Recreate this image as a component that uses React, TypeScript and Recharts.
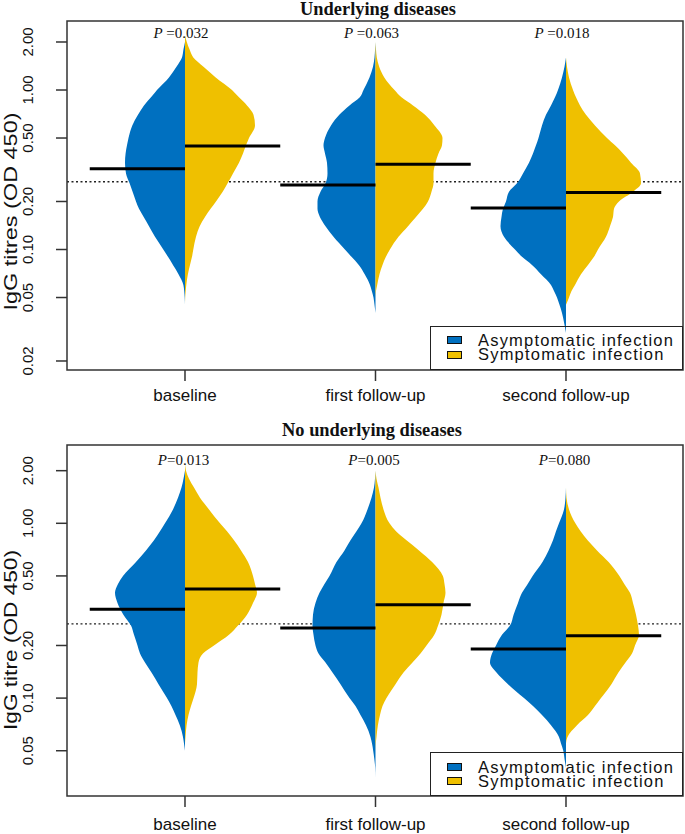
import React from 'react';
import {
  ComposedChart,
  Area,
  XAxis,
  YAxis,
  ReferenceLine,
  ReferenceArea,
  ReferenceDot,
  Legend,
} from 'recharts';

// ---------------- data ----------------
// titre levels (OD 450) at which violin half-widths were read, high to low
const LEVELS = [2.2, 2.0, 1.8, 1.6, 1.4, 1.2, 1.0, 0.9, 0.8, 0.7, 0.6, 0.5, 0.45, 0.4, 0.35, 0.3, 0.26, 0.23, 0.2, 0.18, 0.16, 0.14, 0.12, 0.1, 0.09, 0.08, 0.07, 0.06, 0.055, 0.05, 0.045, 0.04, 0.035, 0.03];

const CATEGORIES = ['baseline', 'first follow-up', 'second follow-up'];
const GROUPS = ['Asymptomatic infection', 'Symptomatic infection'];

// violin half-width (density) readings, one value per LEVELS entry
const TOP_BASE_ASYM = [null, 0, 1.5, 3, 8.5, 16, 28, 34, 41, 47, 52.7, 56.5, 58, 59.4, 60, 59, 55.4, 52.4, 49, 46, 41.3, 36, 30, 21.7, 17, 12, 6.5, 1.6, 0.8, 0.3, 0, null, null, null];
const TOP_BASE_SYM = [0, 1.8, 4.5, 8.3, 18.5, 30.7, 47, 54, 62, 68.5, 70, 64, 61, 58, 54, 48, 42.6, 37.7, 31, 25.6, 20, 14.7, 11, 8.3, 7, 5, 2.9, 1.3, 0.7, 0.2, 0, null, null, null];
const TOP_FIRST_ASYM = [null, 0, 0.4, 1, 2.5, 6, 12, 15.7, 26, 36.2, 44.5, 50.5, 52, 50.5, 48.5, 48, 50, 55, 58, 58, 55.6, 50, 42, 30.6, 24, 16.7, 10.8, 5.5, 3.7, 2, 1, 0, null, null];
const TOP_FIRST_SYM = [null, 0, 0.5, 1.3, 3.7, 8.8, 19, 26, 37.5, 49.5, 59, 67, 66.5, 63, 60, 58, 58, 56, 52.5, 47.5, 40.5, 32.5, 23, 14.4, 10.4, 7, 4, 1.7, 0.5, 0, null, null, null, null];
const TOP_SECOND_ASYM = [null, null, null, 0, 1.5, 4, 8, 11, 15, 20, 24, 27.5, 30, 33, 37, 43, 49, 57, 60, 63, 64.5, 65.5, 62, 51, 44, 34, 25, 15, 12, 9, 6.5, 4, 2, 0];
const TOP_SECOND_SYM = [null, null, null, 0, 1, 3, 7, 10, 14, 20, 29, 41, 49, 57, 65, 74, 75, 67, 53, 48, 47, 44, 40, 32, 28, 22, 15, 9, 5.5, 3, 0, null, null, null];

const BOT_BASE_ASYM = [null, 0, 1.5, 3.5, 7, 12, 20, 25, 31, 39, 49, 62, 67, 70, 67.5, 61.6, 54, 51, 47.5, 45, 40, 33.5, 26.5, 18, 13.6, 9.5, 5.2, 2, 1, 0, null, null, null, null];
const BOT_BASE_SYM = [0, 1, 4, 9, 15, 24, 35, 42, 49, 56, 63, 68, 70, 72, 68, 62, 53, 44, 29, 18, 13.5, 12.5, 12, 8.6, 6, 3.5, 1.6, 0.5, 0, null, null, null, null, null];
const BOT_FIRST_ASYM = [null, 0, 0.5, 1.5, 4, 8, 14, 19, 25, 31, 39, 46, 51, 56, 60, 62.5, 63, 62, 60, 57, 50, 43, 35, 26, 20, 15, 9.5, 5, 3.5, 2.3, 1.2, 0.3, 0, null];
const BOT_FIRST_SYM = [null, 0, 1, 3, 5, 8, 14, 20.5, 31, 43.5, 56.6, 67.4, 69, 70, 68, 66, 62.6, 58.8, 51, 45, 37, 28, 20, 11, 7, 4.5, 2.4, 1, 0.3, 0, null, null, null, null];
const BOT_SECOND_ASYM = [null, null, null, 0, 0.5, 2, 7, 10, 13, 17.4, 23.5, 33.4, 38.3, 44, 48, 52.4, 56, 64, 70, 74, 76, 69.5, 58, 42, 33, 24, 15, 7, 5, 2.7, 1.5, 0, null, null];
const BOT_SECOND_SYM = [null, null, null, 0, 0.5, 3, 9.4, 14.6, 21.6, 31, 42.6, 53.4, 58.3, 64, 67, 70, 72, 73, 69, 66, 59.5, 52.4, 45.4, 35, 29, 22, 11, 1.5, 0, null, null, null, null, null];

// medians per category
const TOP_MED_ASYM = [0.321, 0.254, 0.182];
const TOP_MED_SYM = [0.446, 0.342, 0.228];
const BOT_MED_ASYM = [0.322, 0.252, 0.191];
const BOT_MED_SYM = [0.421, 0.342, 0.2275];

// P values per category
const TOP_P = ['0.032', '0.063', '0.018'];
const BOT_P = ['0.013', '0.005', '0.080'];

const CUTOFF = 0.266;

const TOP_Y_TICKS = [0.02, 0.05, 0.1, 0.2, 0.5, 1, 2];
const BOT_Y_TICKS = [0.05, 0.1, 0.2, 0.5, 1, 2];

// ---------------- styles ----------------
const BLUE = '#0070C0';
const YELLOW = '#EFC000';
const INK = '#111';
const FONT_SANS = '"Liberation Sans", Arial, Helvetica, sans-serif';
const FONT_SERIF = '"Liberation Serif", "Times New Roman", serif';
const WIDTH_SCALE = 190.5; // density units per category step
const MEDIAN_HALF = 0.5;
const X_DOMAIN = [0.3806, 3.6142];

type Half = { values: (number | null)[]; center: number; side: number; color: string };

function halfRange(v: number | null, c: number, side: number) {
  if (v == null) return null;
  return side < 0 ? [c - v / WIDTH_SCALE, c] : [c, c + v / WIDTH_SCALE];
}

function buildRows(halves: Half[]) {
  return LEVELS.map((t, i) => {
    const row: any = { t };
    halves.forEach((h, k) => {
      row['h' + k] = halfRange(h.values[i], h.center, h.side);
    });
    return row;
  });
}

const YTick = (props: any) => {
  const { x, y, payload } = props;
  const cx = x - 28.5;
  return (
    <text
      x={cx}
      y={y}
      transform={`rotate(-90 ${cx} ${y})`}
      textAnchor="middle"
      dominantBaseline="central"
      fontFamily={FONT_SANS}
      fontSize={15}
      fill={INK}
    >
      {Number(payload.value).toFixed(2)}
    </text>
  );
};

const YTitle = (props: any) => {
  const { viewBox, ytext, ylen, yshift } = props;
  const cx = viewBox.x + 10.5;
  const cy = viewBox.y + viewBox.height / 2 + yshift;
  return (
    <text
      x={cx}
      y={cy}
      transform={`rotate(-90 ${cx} ${cy})`}
      textAnchor="middle"
      dominantBaseline="central"
      fontFamily={FONT_SANS}
      fontSize={19}
      textLength={ylen}
      lengthAdjust="spacingAndGlyphs"
      fill={INK}
    >
      {ytext}
    </text>
  );
};

const PLabel = (props: any) => {
  const { viewBox, ptext, pgap, pdx } = props;
  return (
    <text
      x={viewBox.x + pdx}
      y={viewBox.y}
      textAnchor="middle"
      dominantBaseline="central"
      fontFamily={FONT_SERIF}
      fontSize={15}
      fill={INK}
    >
      <tspan fontStyle="italic">P</tspan>
      <tspan>{(pgap ? ' ' : '') + '=' + ptext}</tspan>
    </text>
  );
};

const renderLegend = () => (
  <div
    style={{
      position: 'relative',
      width: 253,
      height: 44,
      border: '1.4px solid #222',
      boxSizing: 'border-box',
      fontFamily: FONT_SANS,
      fontSize: 16.5,
      letterSpacing: '1.2px',
      color: INK,
      background: 'transparent',
    }}
  >
    {GROUPS.map((g, i) => (
      <React.Fragment key={g}>
        <div
          style={{
            position: 'absolute',
            left: 16,
            top: 9.3 + i * 14.7,
            width: 15,
            height: 8,
            background: i === 0 ? BLUE : YELLOW,
            border: '1px solid #111',
            boxSizing: 'border-box',
          }}
        />
        <div
          style={{
            position: 'absolute',
            left: 47,
            top: 6.3 + i * 14.4,
            lineHeight: '14px',
            whiteSpace: 'nowrap',
          }}
        >
          {g}
        </div>
      </React.Fragment>
    ))}
  </div>
);

type PanelCfg = {
  asym: (number | null)[][];
  sym: (number | null)[][];
  medAsym: number[];
  medSym: number[];
  pvals: string[];
  pGap: boolean;
  pDx: number;
  pTitre: number;
  yDomain: number[];
  yTicks: number[];
  yLabel: string;
  yLabelLen: number;
  yLabelShift: number;
  margin: { top: number; right: number; bottom: number; left: number };
  xAxisHeight: number;
  xTickMargin: number;
  legendTop: number;
};

function Panel({ cfg }: { cfg: PanelCfg }) {
  const halves: Half[] = [];
  for (let c = 0; c < 3; c++) {
    halves.push({ values: cfg.asym[c], center: c + 1, side: -1, color: BLUE });
    halves.push({ values: cfg.sym[c], center: c + 1, side: 1, color: YELLOW });
  }
  const rows = buildRows(halves);
  return (
    <ComposedChart width={685} height={417} layout="vertical" data={rows} margin={cfg.margin}>
      <XAxis
        type="number"
        domain={X_DOMAIN}
        allowDataOverflow
        ticks={[1, 2, 3]}
        interval={0}
        tickFormatter={(v: number) => CATEGORIES[v - 1]}
        axisLine={false}
        tickSize={11}
        tickMargin={cfg.xTickMargin}
        height={cfg.xAxisHeight}
        tick={{ fontSize: 17, fill: INK, fontFamily: FONT_SANS }}
        tickLine={{ stroke: '#333', strokeWidth: 1.5 }}
      />
      <YAxis
        type="number"
        dataKey="t"
        scale="log"
        reversed
        domain={cfg.yDomain}
        allowDataOverflow
        ticks={cfg.yTicks}
        interval={0}
        width={67}
        axisLine={false}
        tickSize={11}
        tickMargin={0}
        tick={<YTick />}
        tickLine={{ stroke: '#333', strokeWidth: 1.5 }}
        label={<YTitle ytext={cfg.yLabel} ylen={cfg.yLabelLen} yshift={cfg.yLabelShift} />}
      />
      <ReferenceLine
        y={CUTOFF}
        stroke="#222"
        strokeWidth={1.3}
        strokeDasharray="2 2.5"
        zIndex={50}
      />
      {halves.map((h, k) => (
        <Area
          key={k}
          dataKey={'h' + k}
          type="monotone"
          stroke="none"
          fill={h.color}
          fillOpacity={1}
          isAnimationActive={false}
          dot={false}
          activeDot={false}
          connectNulls={false}
          legendType="none"
        />
      ))}
      {cfg.medAsym.map((m, i) => (
        <ReferenceLine
          key={'ma' + i}
          segment={[
            { x: i + 1 - MEDIAN_HALF, y: m },
            { x: i + 1, y: m },
          ]}
          stroke="#000"
          strokeWidth={3}
          zIndex={800}
        />
      ))}
      {cfg.medSym.map((m, i) => (
        <ReferenceLine
          key={'ms' + i}
          segment={[
            { x: i + 1, y: m },
            { x: i + 1 + MEDIAN_HALF, y: m },
          ]}
          stroke="#000"
          strokeWidth={3}
          zIndex={800}
        />
      ))}
      {cfg.pvals.map((p, i) => (
        <ReferenceDot
          key={'p' + i}
          x={i + 1}
          y={cfg.pTitre}
          r={0}
          fill="none"
          stroke="none"
          label={<PLabel ptext={p} pgap={cfg.pGap} pdx={cfg.pDx} />}
          zIndex={900}
        />
      ))}
      <ReferenceArea
        x1={X_DOMAIN[0]}
        x2={X_DOMAIN[1]}
        y1={cfg.yDomain[0]}
        y2={cfg.yDomain[1]}
        fill="none"
        fillOpacity={0}
        stroke="#333"
        strokeWidth={1.5}
        ifOverflow="visible"
        zIndex={900}
      />
      <Legend
        layout="vertical"
        align="center"
        verticalAlign="middle"
        content={renderLegend}
        wrapperStyle={{ left: 430, top: cfg.legendTop, width: 253, height: 44 }}
      />
    </ComposedChart>
  );
}

const TOP_CFG: PanelCfg = {
  asym: [TOP_BASE_ASYM, TOP_FIRST_ASYM, TOP_SECOND_ASYM],
  sym: [TOP_BASE_SYM, TOP_FIRST_SYM, TOP_SECOND_SYM],
  medAsym: TOP_MED_ASYM,
  medSym: TOP_MED_SYM,
  pvals: TOP_P,
  pGap: true,
  pDx: -4,
  pTitre: 2.278,
  yDomain: [0.01756, 2.708],
  yTicks: TOP_Y_TICKS,
  yLabel: 'IgG titres (OD 450)',
  yLabelLen: 198,
  yLabelShift: 16,
  margin: { top: 21, right: 2, bottom: 7, left: 0 },
  xAxisHeight: 40,
  xTickMargin: 8,
  legendTop: 325.7,
};

const BOT_CFG: PanelCfg = {
  asym: [BOT_BASE_ASYM, BOT_FIRST_ASYM, BOT_SECOND_ASYM],
  sym: [BOT_BASE_SYM, BOT_FIRST_SYM, BOT_SECOND_SYM],
  medAsym: BOT_MED_ASYM,
  medSym: BOT_MED_SYM,
  pvals: BOT_P,
  pGap: false,
  pDx: -1.5,
  pTitre: 2.3,
  yDomain: [0.02754, 2.805],
  yTicks: BOT_Y_TICKS,
  yLabel: 'IgG titre (OD 450)',
  yLabelLen: 180,
  yLabelShift: 19.5,
  margin: { top: 28, right: 2, bottom: 3, left: 0 },
  xAxisHeight: 35,
  xTickMargin: 11,
  legendTop: 335.3,
};

export default function App() {
  return (
    <div style={{ position: 'relative', width: 685, height: 834, background: '#fff', overflow: 'hidden' }}>
      <style>{'body{margin:0;}'}</style>
      <div style={{ position: 'absolute', left: 0, top: 0 }}>
        <Panel cfg={TOP_CFG} />
      </div>
      <div style={{ position: 'absolute', left: 0, top: 417 }}>
        <Panel cfg={BOT_CFG} />
      </div>
      <svg
        width={685}
        height={834}
        style={{ position: 'absolute', left: 0, top: 0, pointerEvents: 'none' }}
      >
        <text x={378} y={14.5} textAnchor="middle" fontFamily={FONT_SERIF} fontWeight="bold" fontSize={18.4} fill={INK}>
          Underlying diseases
        </text>
        <text x={372} y={436} textAnchor="middle" fontFamily={FONT_SERIF} fontWeight="bold" fontSize={18.4} fill={INK}>
          No underlying diseases
        </text>
      </svg>
    </div>
  );
}
